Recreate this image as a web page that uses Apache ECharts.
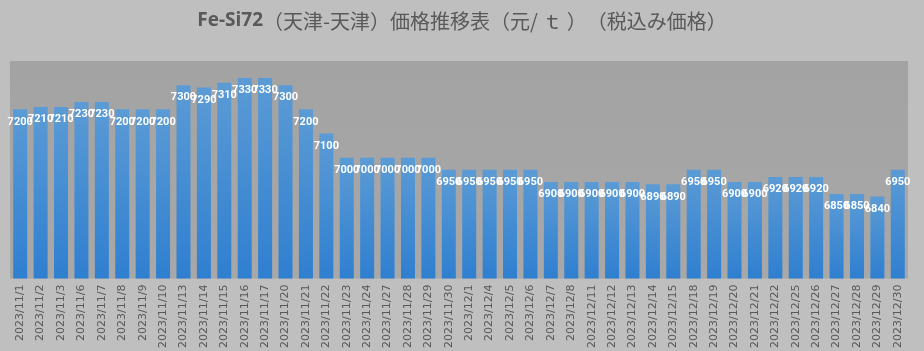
<!DOCTYPE html>
<html>
<head>
<meta charset="utf-8">
<script src="https://cdn.jsdelivr.net/npm/echarts@6/dist/echarts.min.js"></script>
<style>
  html, body { margin: 0; padding: 0; background: #bfbfbf; }
  #chart { width: 924px; height: 351px; }
</style>
</head>
<body>
<div id="chart"></div>
<script>
  // 日付と価格
  const dates = [
    '2023/11/1', '2023/11/2', '2023/11/3', '2023/11/6', '2023/11/7', '2023/11/8',
    '2023/11/9', '2023/11/10', '2023/11/13', '2023/11/14', '2023/11/15', '2023/11/16',
    '2023/11/17', '2023/11/20', '2023/11/21', '2023/11/22', '2023/11/23', '2023/11/24',
    '2023/11/27', '2023/11/28', '2023/11/29', '2023/11/30',
    '2023/12/1', '2023/12/4', '2023/12/5', '2023/12/6', '2023/12/7', '2023/12/8',
    '2023/12/11', '2023/12/12', '2023/12/13', '2023/12/14', '2023/12/15', '2023/12/18',
    '2023/12/19', '2023/12/20', '2023/12/21', '2023/12/22', '2023/12/25', '2023/12/26',
    '2023/12/27', '2023/12/28', '2023/12/29', '2023/12/30'
  ]
  const prices = [
    7200, 7210, 7210, 7230, 7230, 7200, 7200, 7200, 7300, 7290, 7310, 7330,
    7330, 7300, 7200, 7100, 7000, 7000, 7000, 7000, 7000, 6950,
    6950, 6950, 6950, 6950, 6900, 6900, 6900, 6900, 6900, 6890, 6890, 6950,
    6950, 6900, 6900, 6920, 6920, 6920, 6850, 6850, 6840, 6950
  ]

  const chart = echarts.init(document.getElementById('chart'))

  const option = {
    backgroundColor: '#bfbfbf',
    animation: false,
    title: {
      text: '{b|Fe-Si72}{n|（天津-天津）価格推移表（元/ ｔ ）　（税込み価格）}',
      left: 'center',
      top: 6,
      textStyle: {
        rich: {
          b: {
            fontFamily: 'Open Sans',
            fontSize: 19,
            fontWeight: 'bold',
            color: '#595959'
          },
          n: {
            fontFamily: 'Noto Sans CJK JP',
            fontSize: 20,
            fontWeight: 'normal',
            color: '#595959'
          }
        }
      }
    },
    grid: {
      left: 10,
      right: 16,
      top: 61,
      bottom: 72,
      show: true,
      borderWidth: 0,
      backgroundColor: new echarts.graphic.LinearGradient(0, 0, 0, 1, [
        { offset: 0, color: '#a3a3a3' },
        { offset: 1, color: '#a8a8a8' }
      ])
    },
    xAxis: {
      type: 'category',
      data: dates,
      axisLine: { show: false },
      axisTick: { show: false },
      axisLabel: {
        rotate: 90,
        interval: 0,
        margin: 6,
        color: '#595959',
        fontSize: 11,
        fontFamily: 'DejaVu Sans'
      }
    },
    yAxis: {
      type: 'value',
      min: 6500,
      max: 7400,
      show: false,
      splitLine: { show: false }
    },
    series: [
      {
        type: 'bar',
        data: prices,
        barWidth: 14,
        itemStyle: {
          color: new echarts.graphic.LinearGradient(0, 0, 0, 1, [
            { offset: 0, color: '#5b9bd5' },
            { offset: 1, color: '#2f7fd0' }
          ])
        },
        label: {
          show: true,
          position: 'insideTop',
          distance: 7,
          color: '#ffffff',
          fontSize: 11,
          fontWeight: 'bold',
          fontFamily: 'Roboto'
        }
      }
    ]
  }

  chart.setOption(option)
</script>
</body>
</html>
